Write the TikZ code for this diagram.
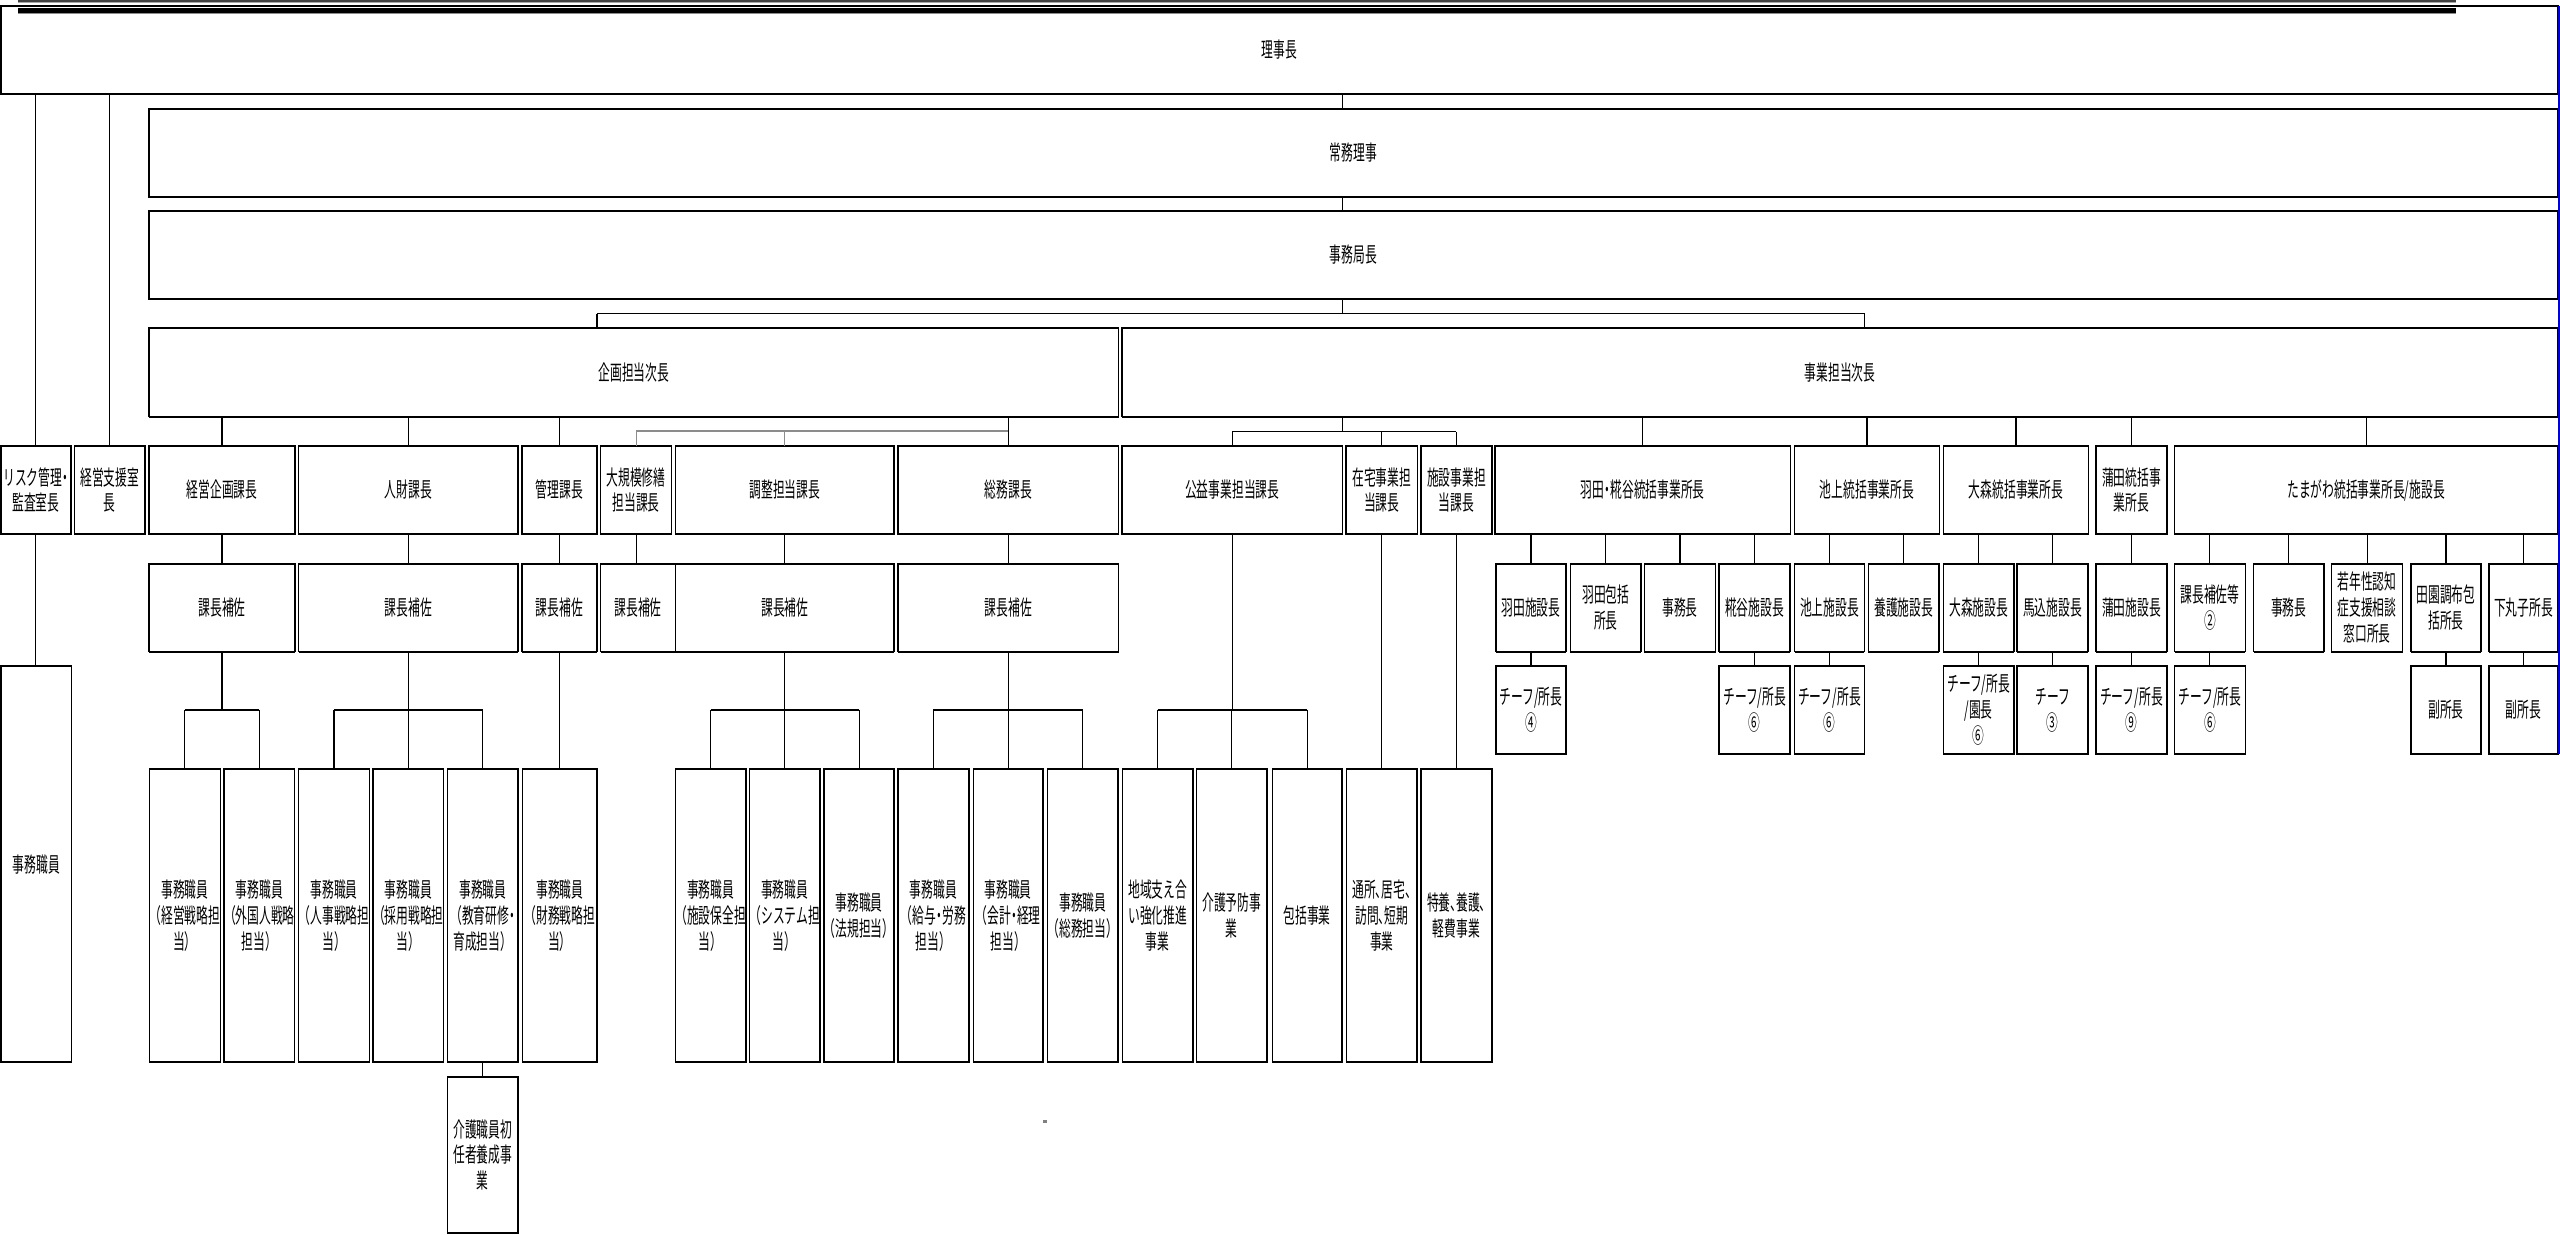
\documentclass[tikz,border=0pt]{standalone}
\usepackage{fontspec}
\newfontfamily\jp[FakeStretch=0.56]{Noto Sans CJK JP}
\newcommand\hpc{\makebox[0.28em][l]{、}}
\newcommand\hdot{\makebox[0.3em]{・}}
\tikzset{
  bx/.style={draw, line width=0.75pt, inner sep=0pt, outer sep=0pt},
  edgeline/.style={line width=1.0pt},
  txt/.style={inner sep=0pt, outer sep=0pt, align=center, font=\jp\fontsize{10.5pt}{12.9pt}\selectfont},
  conn/.style={line width=0.55pt},
  bar/.style={line width=0.75pt},
  graybar/.style={line width=0.8pt, black!45},
}
\newcommand\orgbox[6]{%
  \pgfmathsetmacro\orgbw{(#4-#2)*0.5}%
  \pgfmathsetmacro\orgbh{(#5-#3)*0.5}%
  \node[bx, minimum width=\orgbw pt, minimum height=\orgbh pt] (#1) at ({(#2+#4)/2},{(#3+#5)/2}) {};%
  \draw[edgeline] (#1.north west) -- (#1.north east) (#1.south west) -- (#1.south east);%
  \node[txt] (#1t) at (#1.center) {#6};%
}
\begin{document}
\begin{tikzpicture}[x=0.5pt,y=-0.5pt]
\useasboundingbox (0,0) rectangle (2560,1235);
\fill[white] (0,0) rectangle (2560,1235);
% top banner remains
\fill[black!75] (18.3,0) rectangle (2455.7,1.8);
\fill[black!35] (18.3,1.8) rectangle (2455.7,2.7);
\fill[black] (18.3,8.3) rectangle (2455.7,13.4);
\fill[black!45] (18.3,13.4) rectangle (2455.7,14.2);
% top levels
\orgbox{rijicho}{0.8}{5.7}{2558}{94}{理事長}
\orgbox{jomu}{149}{108.7}{2558}{197}{常務理事}
\orgbox{jimukyoku}{149}{210.7}{2558}{299}{事務局長}
\orgbox{kikakuji}{149}{328}{1118.7}{416.7}{企画担当次長}
\orgbox{jigyoji}{1122}{328}{2558}{416.7}{事業担当次長}
% row 3
\orgbox{risk}{0.8}{446}{71}{534}{リスク管理\hdot\\監査室長}
\orgbox{shien}{74.6}{446}{145}{534}{経営支援室\\長}
\orgbox{keiei}{149}{446}{295}{534}{経営企画課長}
\orgbox{jinzai}{298.5}{446}{518}{534}{人財課長}
\orgbox{kanri}{522}{446}{597}{534}{管理課長}
\orgbox{daikibo}{600.5}{446}{671.6}{534}{大規模修繕\\担当課長}
\orgbox{chosei}{675.7}{446}{894}{534}{調整担当課長}
\orgbox{somu}{898}{446}{1118.7}{534}{総務課長}
\orgbox{koeki}{1122}{446}{1342.5}{534}{公益事業担当課長}
\orgbox{zaitaku}{1346}{446}{1417.7}{534}{在宅事業担\\当課長}
\orgbox{shisetsu}{1421}{446}{1491.8}{534}{施設事業担\\当課長}
\orgbox{haneda}{1495}{446}{1790.5}{534}{羽田\hdot 糀谷統括事業所長}
\orgbox{ikegami}{1794.3}{446}{1939.7}{534}{池上統括事業所長}
\orgbox{omori}{1943.6}{446}{2088.4}{534}{大森統括事業所長}
\orgbox{kamata}{2096}{446}{2166.8}{534}{蒲田統括事\\業所長}
\orgbox{tamagawa}{2174.5}{446}{2558}{534}{たまがわ統括事業所長/施設長}
% row 4
\orgbox{keiei2}{149}{564}{295}{651.5}{課長補佐}
\orgbox{jinzai2}{298.5}{564}{518}{651.5}{課長補佐}
\orgbox{kanri2}{522}{564}{597}{651.5}{課長補佐}
\orgbox{daikibo2}{600.5}{564}{675.7}{651.5}{課長補佐}
\orgbox{chosei2}{675.7}{564}{894}{651.5}{課長補佐}
\orgbox{somu2}{898}{564}{1118.7}{651.5}{課長補佐}
\orgbox{hanedaS}{1496}{564}{1566}{651.5}{羽田施設長}
\orgbox{hanedaH}{1570.4}{564}{1641.2}{651.5}{羽田包括\\所長}
\orgbox{hanedaJ}{1644.4}{564}{1715.5}{651.5}{事務長}
\orgbox{kojiya}{1719.2}{564}{1790}{651.5}{糀谷施設長}
\orgbox{ikegamiS}{1794.5}{564}{1864.3}{651.5}{池上施設長}
\orgbox{yogo}{1868.4}{564}{1939}{651.5}{養護施設長}
\orgbox{omoriS}{1943.3}{564}{2014}{651.5}{大森施設長}
\orgbox{magome}{2017.2}{564}{2088}{651.5}{馬込施設長}
\orgbox{kamataS}{2096}{564}{2166.9}{651.5}{蒲田施設長}
\orgbox{kacho}{2174.5}{564}{2245.3}{651.5}{課長補佐等\\②}
\orgbox{tamaJ}{2253.5}{564}{2324.2}{651.5}{事務長}
\orgbox{jakunen}{2331.4}{564}{2402.7}{651.5}{若年性認知\\症支援相談\\窓口所長}
\orgbox{denen}{2411}{564}{2481}{651.5}{田園調布包\\括所長}
\orgbox{shimo}{2488.8}{564}{2558}{651.5}{下丸子所長}
% row 5 (chiefs)
\orgbox{c1}{1496}{665.7}{1566}{754.3}{チーフ/所長\\④}
\orgbox{c2}{1719.2}{665.7}{1790}{754.3}{チーフ/所長\\⑥}
\orgbox{c3}{1794.5}{665.7}{1864.3}{754.3}{チーフ/所長\\⑥}
\orgbox{c4}{1943.3}{665.7}{2014}{754.3}{チーフ/所長\\/園長\\⑥}
\orgbox{c5}{2017.2}{665.7}{2088}{754.3}{チーフ\\③}
\orgbox{c6}{2096}{665.7}{2166.9}{754.3}{チーフ/所長\\⑨}
\orgbox{c7}{2174.5}{665.7}{2245.3}{754.3}{チーフ/所長\\⑥}
\orgbox{c8}{2411}{665.7}{2481}{754.3}{副所長}
\orgbox{c9}{2488.8}{665.7}{2558}{754.3}{副所長}
% left staff
\orgbox{staffL}{0.8}{666}{71.7}{1062.3}{事務職員}
% row 6
\orgbox{s1}{149.3}{769}{220.5}{1062.3}{事務職員\\（経営戦略担\\当）}
\orgbox{s2}{224}{769}{294.7}{1062.3}{事務職員\\（外国人戦略\\担当）}
\orgbox{s3}{298.6}{769}{369.4}{1062.3}{事務職員\\（人事戦略担\\当）}
\orgbox{s4}{373.2}{769}{443.5}{1062.3}{事務職員\\（採用戦略担\\当）}
\orgbox{s5}{447.4}{769}{518.2}{1062.3}{事務職員\\（教育研修\hdot\\育成担当）}
\orgbox{s6}{522.5}{769}{597.2}{1062.3}{事務職員\\（財務戦略担\\当）}
\orgbox{s7}{675.4}{769}{746}{1062.3}{事務職員\\（施設保全担\\当）}
\orgbox{s8}{749.4}{769}{820.1}{1062.3}{事務職員\\（システム担\\当）}
\orgbox{s9}{824}{769}{894.2}{1062.3}{事務職員\\（法規担当）}
\orgbox{s10}{898.1}{769}{968.8}{1062.3}{事務職員\\（給与\hdot 労務\\担当）}
\orgbox{s11}{973.3}{769}{1043}{1062.3}{事務職員\\（会計\hdot 経理\\担当）}
\orgbox{s12}{1047.4}{769}{1118.1}{1062.3}{事務職員\\（総務担当）}
\orgbox{s13}{1122.6}{769}{1192.8}{1062.3}{地域支え合\\い強化推進\\事業}
\orgbox{s14}{1196.7}{769}{1266.8}{1062.3}{介護予防事\\業}
\orgbox{s15}{1272.4}{769}{1342}{1062.3}{包括事業}
\orgbox{s16}{1346.5}{769}{1417.2}{1062.3}{通所\hpc 居宅\hpc\\訪問\hpc 短期\\事業}
\orgbox{s17}{1421.1}{769}{1491.8}{1062.3}{特養\hpc 養護\hpc\\軽費事業}
\orgbox{kaigo}{447.4}{1076.7}{518.2}{1233}{介護職員初\\任者養成事\\業}
% ---------- connectors ----------
\coordinate (trunk) at (1342.5,0);
\draw[conn] (rijicho.south -| trunk) -- (jomu.north -| trunk);
\draw[conn] (jomu.south -| trunk) -- (jimukyoku.north -| trunk);
\coordinate (brA) at (597,313.7);
\coordinate (brB) at (1864.6,313.7);
\draw[conn] (jimukyoku.south -| trunk) -- (trunk |- brA);
\draw[bar] (brA) -- (brB);
\draw[conn] (brA) -- (kikakuji.north -| brA);
\draw[conn] (brB) -- (jigyoji.north -| brB);
\draw[conn] (risk.north) -- (risk.north |- rijicho.south);
\draw[conn] (shien.north) -- (shien.north |- rijicho.south);
\foreach \c in {keiei,jinzai,kanri,somu}
  \draw[conn] (\c.north) -- (\c.north |- kikakuji.south);
\coordinate (gy) at (0,431);
\draw[graybar] (daikibo.north |- gy) -- (somu.north |- gy);
\foreach \c in {daikibo,chosei}
  \draw[graybar, line width=0.55pt] (\c.north) -- (\c.north |- gy);
\coordinate (jy) at (0,431.7);
\draw[conn] (jigyoji.south -| trunk) -- (trunk |- jy);
\draw[bar] (koeki.north |- jy) -- (shisetsu.north |- jy);
\foreach \c in {koeki,zaitaku,shisetsu}
  \draw[conn] (\c.north) -- (\c.north |- jy);
\foreach \c in {haneda,ikegami,omori,kamata,tamagawa}
  \draw[conn] (\c.north) -- (\c.north |- jigyoji.south);
\foreach \a/\b in {keiei/keiei2,jinzai/jinzai2,kanri/kanri2,daikibo/daikibo2,chosei/chosei2,somu/somu2}
  \draw[conn] (\a.south) -- (\a.south |- \b.north);
\foreach \p/\c in {haneda/hanedaS,haneda/hanedaH,haneda/hanedaJ,haneda/kojiya,ikegami/ikegamiS,ikegami/yogo,omori/omoriS,omori/magome,kamata/kamataS,tamagawa/kacho,tamagawa/tamaJ,tamagawa/jakunen,tamagawa/denen,tamagawa/shimo}
  \draw[conn] (\c.north) -- (\c.north |- \p.south);
\foreach \p/\c in {hanedaS/c1,kojiya/c2,ikegamiS/c3,omoriS/c4,magome/c5,kamataS/c6,kacho/c7,denen/c8,shimo/c9}
  \draw[conn] (\p.south) -- (\p.south |- \c.north);
\draw[conn] (risk.south) -- (risk.south |- staffL.north);
\coordinate (by) at (0,710);
\foreach \p/\l/\r in {keiei2/s1/s2,jinzai2/s3/s5,chosei2/s7/s9,somu2/s10/s12,koeki/s13/s15}{
  \draw[conn] (\p.south) -- (\p.south |- by);
  \draw[bar] (\l.north |- by) -- (\r.north |- by);
}
\foreach \c in {s1,s2,s3,s4,s5,s7,s8,s9,s10,s11,s12,s13,s14,s15}
  \draw[conn] (\c.north) -- (\c.north |- by);
\draw[conn] (kanri2.south) -- (kanri2.south |- s6.north);
\draw[conn] (zaitaku.south) -- (zaitaku.south |- s16.north);
\draw[conn] (shisetsu.south) -- (shisetsu.south |- s17.north);
\draw[conn] (s5.south) -- (kaigo.north);
% right blue edge and small speck
\draw[blue!85!black, line width=1pt] (2558.8,5.7) -- (2558.8,754.3);
\fill[black!50] (1043,1120) rectangle (1047,1122.5);
\end{tikzpicture}
\end{document}
